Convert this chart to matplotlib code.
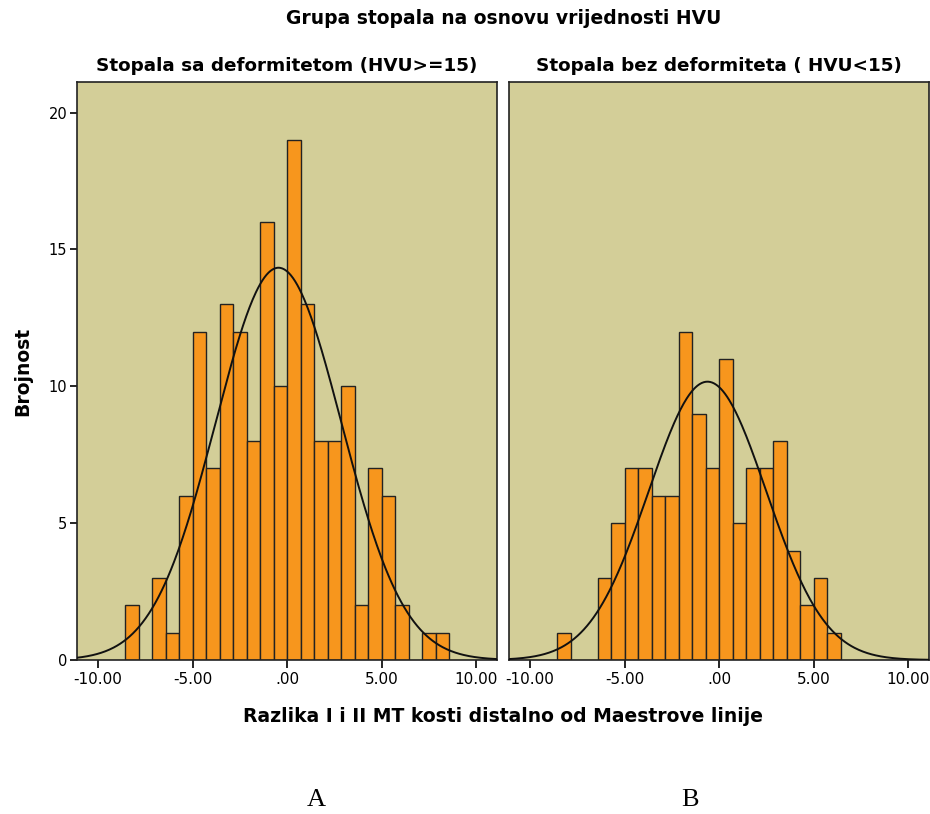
import numpy as np
import matplotlib
matplotlib.use("Agg")
import matplotlib.pyplot as plt

# Podaci ocitani sa slike (histogrami, sirina klase 5/7)
sirina_klase = 5 / 7
prva_klasa = -12  # indeks prve klase (lijeva ivica = -12 * sirina)

brojevi_A = [2, 0, 3, 1, 6, 12, 7, 13, 12, 8, 16, 10, 19, 13, 8, 8, 10, 2, 7, 6, 2, 0, 1, 1]
brojevi_B = [1, 0, 0, 3, 5, 7, 7, 6, 6, 12, 9, 7, 11, 5, 7, 7, 8, 4, 2, 3, 1]

# parametri normalne krive (procjena sa slike)
sredina_A, sd_A = -0.46, 3.32
sredina_B, sd_B = -0.62, 3.11

naslov = "Grupa stopala na osnovu vrijednosti HVU"
podnaslovi = ["Stopala sa deformitetom (HVU>=15)", "Stopala bez deformiteta ( HVU<15)"]
x_tick_vr = [-10, -5, 0, 5, 10]
x_tick_lab = ["-10.00", "-5.00", ".00", "5.00", "10.00"]
y_ticks = [0, 5, 10, 15, 20]

pozadina = "#d3ce98"
narandzasta = "#f7961d"

fig = plt.figure(figsize=(9.3, 8.14), dpi=100)
ax1 = fig.add_axes([77 / 930, 1 - 660 / 814, 420 / 930, 578 / 814])
ax2 = fig.add_axes([509 / 930, 1 - 660 / 814, 420 / 930, 578 / 814])

for ax, brojevi, m, s, pod in [(ax1, brojevi_A, sredina_A, sd_A, podnaslovi[0]),
                               (ax2, brojevi_B, sredina_B, sd_B, podnaslovi[1])]:
    ax.set_facecolor(pozadina)
    brojevi = np.array(brojevi)
    lijeve = (prva_klasa + np.arange(len(brojevi))) * sirina_klase
    ima = brojevi > 0
    ax.bar(lijeve[ima], brojevi[ima], width=sirina_klase, align="edge",
           color=narandzasta, edgecolor="#222222", linewidth=1.0, zorder=2)
    n = brojevi.sum()
    xs = np.linspace(-11.2, 11.2, 400)
    ys = n * sirina_klase / (s * np.sqrt(2 * np.pi)) * np.exp(-0.5 * ((xs - m) / s) ** 2)
    ax.plot(xs, ys, color="#111111", linewidth=1.4, zorder=3)
    ax.set_xlim(-11.12, 11.1)
    ax.set_ylim(0, 21.12)
    ax.set_xticks(x_tick_vr)
    ax.set_xticklabels(x_tick_lab, fontsize=11, family="DejaVu Sans")
    ax.tick_params(axis="x", direction="out", length=6, width=1.2, pad=3)
    for sp in ax.spines.values():
        sp.set_linewidth(1.2)
        sp.set_color("#222222")
    ax.set_title(pod, fontsize=13.2, fontweight="bold", family="DejaVu Sans", pad=8)

ax1.set_yticks(y_ticks)
ax1.set_yticklabels([str(v) for v in y_ticks], fontsize=10.5, family="DejaVu Sans")
ax1.tick_params(axis="y", direction="out", length=5, width=1.2, pad=2)
ax2.set_yticks([])
ax1.set_ylabel("Brojnost", fontsize=13.5, fontweight="bold", family="DejaVu Sans", labelpad=12)

fig.text(504 / 930, 1 - 18 / 814, naslov, ha="center", va="center", fontsize=13.5,
         fontweight="bold", family="DejaVu Sans")
fig.text(503 / 930, 1 - 717 / 814, "Razlika I i II MT kosti distalno od Maestrove linije",
         ha="center", va="center", fontsize=13.5, fontweight="bold", family="DejaVu Sans")
fig.text(316 / 930, 1 - 800 / 814, "A", ha="center", va="center", fontsize=19,
         family="Liberation Serif")
fig.text(690 / 930, 1 - 800 / 814, "B", ha="center", va="center", fontsize=19,
         family="Liberation Serif")

fig.savefig("out.png", dpi=100)
